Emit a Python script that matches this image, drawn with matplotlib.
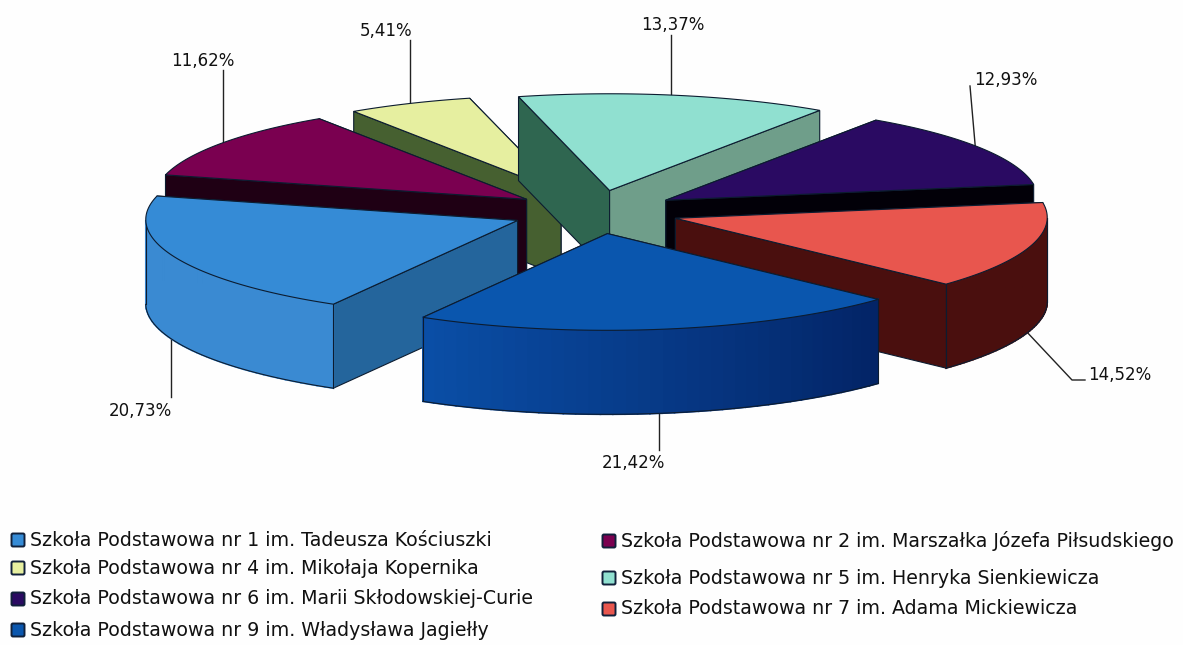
import numpy as np
import matplotlib
matplotlib.use("Agg")
import matplotlib.pyplot as plt
from matplotlib.patches import FancyBboxPatch, Polygon

# data
names = ["Szkoła Podstawowa nr 1 im. Tadeusza Kościuszki",
         "Szkoła Podstawowa nr 2 im. Marszałka Józefa Piłsudskiego",
         "Szkoła Podstawowa nr 4 im. Mikołaja Kopernika",
         "Szkoła Podstawowa nr 5 im. Henryka Sienkiewicza",
         "Szkoła Podstawowa nr 6 im. Marii Skłodowskiej-Curie",
         "Szkoła Podstawowa nr 7 im. Adama Mickiewicza",
         "Szkoła Podstawowa nr 9 im. Władysława Jagiełły"]
values = [20.73, 11.62, 5.41, 13.37, 12.93, 14.52, 21.42]
labels = ["20,73%", "11,62%", "5,41%", "13,37%", "12,93%", "14,52%", "21,42%"]

# colours of each slice: top, cut at start angle, cut at end angle, outer side (left/right)
top_col = ["#358bd6", "#7a0050", "#e6efa0", "#90e0d0", "#2a0a62", "#e8564e", "#0a56ae"]
cut1_col = ["#24659c", "#1f0014", "#466030", "#2f6650", "#020008", "#4a0f0e", "#063a8a"]
cut2_col = ["#24659c", "#1f0014", "#466030", "#6f9e8a", "#020008", "#4a0f0e", "#063a8a"]
side_a = ["#3a8ad2", "#5a003c", "#a0a870", "#5f9a88", "#1a0040", "#4a0f0e", "#032466"]
side_b = ["#3a8ad2", "#5a003c", "#a0a870", "#5f9a88", "#1a0040", "#4a0f0e", "#0a4ea6"]

# layout of the fake 3d pie, in pixels
cx, cy = 595, 212
R = 372
squash = 0.26
persp = -0.00002
explode = 84
height = 84
start = -240


def project(x, y, z=0):
    # x, y in pixels on the pie plane (y already towards the viewer), z is drop
    return cx + x * (1 + persp * y), cy + y * squash + z


def arc(off_x, off_y, t1, t2, z=0, n=80):
    t = np.radians(np.linspace(t1, t2, n))
    return project(off_x + R * np.cos(t), off_y + R * np.sin(t), z)


fig = plt.figure(figsize=(11.83, 6.45), dpi=100, facecolor="#fefefe")
ax = fig.add_axes([0, 0, 1, 1])
ax.set_xlim(0, 1183)
ax.set_ylim(645, 0)
ax.axis("off")

edge = "#0c1c30"
angles = np.array(values) * 3.6
t_start = start + np.concatenate([[0], np.cumsum(angles)[:-1]])
t_end = t_start + angles

# leader lines first, the slices sit on top of them
leaders = [([171, 171], [330, 397]), ([223, 223], [70, 150]), ([410, 410], [40, 105]),
           ([671, 671], [35, 100]), ([970, 976], [86, 155]),
           ([1025, 1072, 1085], [330, 380, 380]), ([659, 659], [400, 450])]
for lx, ly in leaders:
    ax.plot(lx, ly, color="#222222", lw=1, zorder=1)

# back to front
order = [2, 3, 1, 4, 0, 5, 6]
for n, i in enumerate(order):
    z0 = 2 + n
    t1, t2 = t_start[i], t_end[i]
    mid = np.radians((t1 + t2) / 2)
    ox, oy = explode * np.cos(mid), explode * np.sin(mid)
    ax0, ay0 = project(ox, oy)
    ax1, ay1 = project(ox, oy, height)

    # the two straight cuts, the one further back first
    cuts = []
    for t, col in ((t1, cut1_col[i]), (t2, cut2_col[i])):
        rx, ry = project(ox + R * np.cos(np.radians(t)), oy + R * np.sin(np.radians(t)))
        cuts.append((ry, rx, col))
    cuts.sort()
    for ry, rx, col in cuts:
        ax.add_patch(Polygon([(ax0, ay0), (rx, ry), (rx, ry + height), (ax1, ay1)],
                             fc=col, ec=edge, lw=0.8, zorder=z0))

    # outer side, only the part that faces front (sin > 0)
    a = t1 + 360 * np.ceil(-t1 / 360)  # t1 moved to 0..360
    b = a + (t2 - t1)
    fronts = [(max(a, k), min(b, k + 180)) for k in (-360, 0, 360)]
    for f1, f2 in fronts:
        if f2 <= f1:
            continue
        # strips so the colour can shift along the side
        steps = np.linspace(f1, f2, 41)
        c_a = np.array(matplotlib.colors.to_rgb(side_a[i]))
        c_b = np.array(matplotlib.colors.to_rgb(side_b[i]))
        for j in range(40):
            xs, ys = arc(ox, oy, steps[j], steps[j + 1], n=4)
            col = c_a + (c_b - c_a) * (j / 39)
            ax.fill(np.r_[xs, xs[::-1]], np.r_[ys, ys[::-1] + height],
                    fc=col, ec=col, lw=1.2, zorder=z0)
        xs, ys = arc(ox, oy, f1, f2)
        ax.plot(xs, ys + height, color=edge, lw=0.8, zorder=z0)
        ax.plot([xs[0], xs[0]], [ys[0], ys[0] + height], color=edge, lw=0.8, zorder=z0)
        ax.plot([xs[-1], xs[-1]], [ys[-1], ys[-1] + height], color=edge, lw=0.8, zorder=z0)

    # top
    xs, ys = arc(ox, oy, t1, t2)
    ax.add_patch(Polygon(np.c_[np.r_[ax0, xs], np.r_[ay0, ys]], closed=True,
                         fc=top_col[i], ec=edge, lw=0.8, zorder=z0))

# percent labels
label_x = [140, 203, 386, 673, 1006, 1120, 633]
label_y = [411, 61, 31, 25, 80, 375, 463]
for i in range(len(labels)):
    ax.text(label_x[i], label_y[i], labels[i], fontsize=12, color="#111111",
            ha="center", va="center", zorder=20)

# legend, left column holds odd entries, right column the even ones
legend_x = [30, 621, 30, 621, 30, 621, 30]
legend_y = [540, 541, 568, 578, 599, 609, 630]
for i in range(len(names)):
    ax.text(legend_x[i], legend_y[i], names[i], fontsize=13.7, color="#111111",
            ha="left", va="center", zorder=20)
    ax.add_patch(FancyBboxPatch((legend_x[i] - 17, legend_y[i] - 5), 10, 10,
                                boxstyle="round,pad=1.5", fc=top_col[i],
                                ec="#10203a", lw=1.4, zorder=20))

fig.savefig("out.png", dpi=100, facecolor=fig.get_facecolor())
